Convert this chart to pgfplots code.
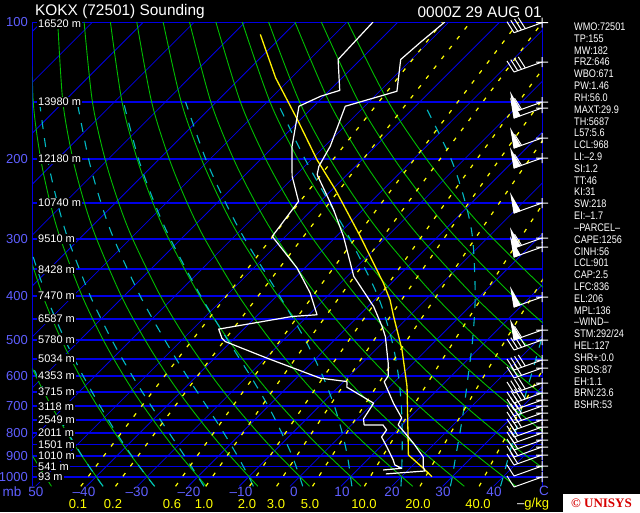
\documentclass[border=0pt]{standalone}
\usepackage{fontspec}
\setmainfont{Liberation Sans}
\newfontfamily\narrowfont{Liberation Sans}[FakeStretch=0.83]
\newfontfamily\logofont{Liberation Serif}
\usepackage{pgfplots}
\usepackage{pgfplotstable}
\pgfplotsset{compat=1.18}

\definecolor{isob}{RGB}{0,0,230}
\definecolor{dryc}{RGB}{0,190,0}
\definecolor{moistc}{RGB}{0,185,195}
\definecolor{mixc}{RGB}{255,255,0}
\definecolor{lblue}{RGB}{95,95,255}
\definecolor{unired}{RGB}{215,0,0}

\newcommand\sk{38.79}

% dry adiabats: temperature (C) at pressure p of the adiabats through -50 ... 100 C at 1000 hPa
\pgfplotstableread[row sep=\\]{
p tm50 tm40 tm30 tm20 tm10 t0 t10 t20 t30 t40 t50 t60 t70 t80 t90 t100 \\
1050 -46.87 -36.73 -26.59 -16.45 -6.31 3.83 13.97 24.11 34.25 44.39 54.53 64.67 74.81 84.95 95.09 105.23 \\
850 -60.12 -50.58 -41.03 -31.48 -21.94 -12.39 -2.84 6.70 16.25 25.80 35.34 44.89 54.43 63.98 73.53 83.07 \\
700 -71.63 -62.59 -53.56 -44.53 -35.50 -26.47 -17.44 -8.41 0.62 9.66 18.69 27.72 36.75 45.78 54.81 63.84 \\
600 -80.30 -71.66 -63.02 -54.38 -45.74 -37.09 -28.45 -19.81 -11.17 -2.53 6.12 14.76 23.40 32.04 40.68 49.33 \\
500 -90.10 -81.89 -73.69 -65.49 -57.28 -49.08 -40.88 -32.67 -24.47 -16.27 -8.06 0.14 8.34 16.55 24.75 32.95 \\
400 -101.40 -93.71 -86.01 -78.31 -70.61 -62.92 -55.22 -47.53 -39.83 -32.13 -24.44 -16.74 -9.04 -1.34 6.35 14.05 \\
300 -114.95 -107.86 -100.77 -93.68 -86.59 -79.51 -72.42 -65.33 -58.24 -51.15 -44.06 -36.97 -29.88 -22.79 -15.70 -8.61 \\
250 -122.98 -116.25 -109.52 -102.79 -96.06 -89.33 -82.60 -75.87 -69.14 -62.41 -55.68 -48.95 -42.22 -35.49 -28.76 -22.03 \\
200 -132.25 -125.94 -119.63 -113.31 -107.00 -100.68 -94.37 -88.06 -81.74 -75.43 -69.11 -62.80 -56.49 -50.17 -43.86 -37.54 \\
150 -143.38 -137.56 -131.74 -125.93 -120.11 -114.30 -108.48 -102.67 -96.85 -91.03 -85.22 -79.40 -73.59 -67.77 -61.96 -56.14 \\
100 -157.57 -152.39 -147.21 -142.03 -136.85 -131.67 -126.50 -121.32 -116.14 -110.96 -105.78 -100.60 -95.42 -90.24 -85.06 -79.88 \\
}\dryT

% moist (pseudo) adiabats, wet-bulb potential temperature -40..40 C
\pgfplotstableread[row sep=\\]{
p wa wb wc wd we wf wg wh wi \\
1050 -36.73 -26.60 -16.90 -7.20 2.50 12.15 21.80 31.50 41.35 \\
1000 -40.00 -30.00 -20.00 -10.00 0.00 10.00 20.00 30.00 40.00 \\
900 -46.82 -37.06 -26.70 -16.30 -5.55 5.30 16.05 26.60 37.00 \\
800 -54.21 -44.69 -34.35 -23.60 -12.20 -0.30 11.50 22.85 33.70 \\
700 -62.36 -53.02 -42.97 -32.10 -20.00 -7.00 6.15 18.50 29.90 \\
600 -71.40 -62.37 -52.70 -42.00 -29.50 -15.30 -0.40 13.30 25.65 \\
500 -81.62 -72.99 -63.80 -53.40 -41.05 -25.80 -8.80 7.10 20.60 \\
400 -93.45 -85.33 -76.70 -66.90 -55.00 -39.50 -20.20 -1.05 14.30 \\
300 -107.63 -100.15 -92.20 -83.20 -72.10 -57.50 -36.80 -12.70 6.10 \\
250 -116.03 -108.93 -101.35 -92.80 -82.30 -68.30 -47.90 -21.20 0.70 \\
200 -125.73 -119.08 -111.96 -103.90 -94.10 -80.90 -61.40 -32.70 -6.20 \\
150 -137.37 -131.24 -124.70 -117.30 -108.20 -96.00 -78.00 -49.30 -15.90 \\
}\moistT

% saturation mixing ratio lines 0.1 ... 40 g/kg
\pgfplotstableread[row sep=\\]{
p ra rb rc rd re rf rg rh ri rj \\
1050 -41.11 -34.29 -22.49 -16.55 -7.95 -2.63 4.42 14.61 25.54 37.17 \\
700 -44.90 -38.34 -27.00 -21.30 -13.07 -7.97 -1.24 8.48 18.89 29.93 \\
500 -47.94 -41.58 -30.61 -25.09 -17.15 -12.23 -5.75 3.61 13.61 24.21 \\
300 -52.37 -46.30 -35.86 -30.62 -23.07 -18.41 -12.27 -3.43 6.00 15.96 \\
200 -55.76 -49.90 -39.84 -34.80 -27.56 -23.09 -17.21 -8.75 0.27 9.77 \\
100 -61.27 -55.76 -46.31 -41.59 -34.82 -30.65 -25.16 -17.30 -8.95 -0.16 \\
}\mixT

\pgfplotstableread[row sep=\\]{
p \\ 1050 \\ 100 \\
}\isoP

% observed temperature
\pgfplotstableread[row sep=\\]{
p T \\
100 -60.8 \\ 110.9 -61.6 \\ 120.9 -62.1 \\ 142 -56.6 \\ 153.2 -63.8 \\
187.6 -58.9 \\ 207.6 -57.2 \\ 216.6 -55.9 \\ 258.6 -45.8 \\ 296.1 -38.6 \\
316.8 -35.3 \\ 362.7 -28.7 \\ 422.3 -18.9 \\ 467.4 -13.3 \\ 491.7 -10.7 \\
562.7 -4.9 \\ 600.1 -2.4 \\ 618.7 -2.0 \\ 689.2 4.0 \\ 742.5 8.5 \\
769.4 9.2 \\ 844.2 15.8 \\ 904.9 20.4 \\ 950.6 22.3 \\ 971.5 23.5 \\ 986 16.4 \\
}\tempT

% observed dew point
\pgfplotstableread[row sep=\\]{
p T \\
100 -74.9 \\ 120.9 -74.4 \\ 141.4 -68.0 \\ 145.6 -70.6 \\ 153.2 -72.9 \\
187.6 -66.4 \\ 218.4 -60.5 \\ 248 -54.3 \\ 296.1 -52.6 \\ 347.6 -41.5 \\
394.6 -34.0 \\ 440.4 -28.4 \\ 444.3 -33.0 \\ 473.6 -44.9 \\ 495.7 -42.5 \\
504.3 -41.2 \\ 548.6 -29.7 \\ 607.2 -15.3 \\ 617.7 -9.4 \\ 635.5 -8.3 \\
689.2 0.1 \\ 746.3 1.2 \\ 769.4 2.5 \\ 769.4 6.2 \\ 789.1 7.9 \\
817.7 8.3 \\ 860.2 11.3 \\ 918.8 15.1 \\ 942.4 16.4 \\ 958.3 18.4 \\ 966.6 15.1 \\
}\dewT

% lifted parcel
\pgfplotstableread[row sep=\\]{
p T \\
106.5 -94.6 \\ 132.6 -83.1 \\ 163.9 -70.6 \\ 200.7 -58.9 \\ 233.6 -49.4 \\
296.1 -35.3 \\ 375 -21.6 \\ 408.2 -17.0 \\ 444.3 -13.0 \\ 526 -4.8 \\
633.6 3.4 \\ 895.8 17.1 \\ 950.6 22.0 \\ 1000 26.0 \\
}\parcelT

% wind barb glyphs (drawn at the station point on the right frame)
\newcommand{\bstaff}{%
 \pgfpathmoveto{\pgfpoint{-6pt}{0pt}}\pgfpathlineto{\pgfpoint{6pt}{0pt}}%
 \pgfpathmoveto{\pgfpoint{0pt}{-5pt}}\pgfpathlineto{\pgfpoint{0pt}{5pt}}%
 \pgfpathmoveto{\pgfpoint{0pt}{0pt}}\pgfpathlineto{\pgfpoint{-28pt}{-10pt}}}
\newcommand{\bfeather}[1]{%
 \pgfpathmoveto{\pgfpoint{-28pt+3.77pt*#1}{-10pt+1.35pt*#1}}%
 \pgfpathlineto{\pgfpoint{-35pt+3.77pt*#1}{1pt+1.35pt*#1}}}
\newcommand{\bpennant}[1]{%
 \pgfpathmoveto{\pgfpoint{-28pt+3.77pt*#1}{-10pt+1.35pt*#1}}%
 \pgfpathlineto{\pgfpoint{-31pt+3.77pt*#1}{8pt+1.35pt*#1}}%
 \pgfpathlineto{\pgfpoint{-22pt+3.77pt*#1}{-7.8pt+1.35pt*#1}}\pgfpathclose}
\pgfdeclareplotmark{bF1}{\bstaff\bfeather{0}\pgfusepathqstroke}
\pgfdeclareplotmark{bF2}{\bstaff\bfeather{0}\bfeather{1}\pgfusepathqstroke}
\pgfdeclareplotmark{bF3}{\bstaff\bfeather{0}\bfeather{1}\bfeather{2}\pgfusepathqstroke}
\pgfdeclareplotmark{bF4}{\bstaff\bfeather{0}\bfeather{1}\bfeather{2}\bfeather{3}\pgfusepathqstroke}
\pgfdeclareplotmark{bP}{\bstaff\pgfusepathqstroke\bpennant{0}\pgfusepathqfillstroke}
\pgfdeclareplotmark{bPF1}{\bstaff\bfeather{2}\pgfusepathqstroke\bpennant{0}\pgfusepathqfillstroke}

\tikzset{
 plab/.style={font=\fontsize{13}{13}\selectfont, text=lblue, anchor=east, inner sep=0pt},
 hlab/.style={font=\fontsize{11}{11}\selectfont, text=white, fill=black, anchor=west, inner sep=1pt},
 rt/.style={font=\narrowfont\fontsize{11}{11}\selectfont, text=white, anchor=west, inner sep=0pt},
 tlab/.style={font=\fontsize{13.5}{13.5}\selectfont, text=lblue, inner sep=0pt},
 ylab/.style={font=\fontsize{13}{13}\selectfont, text=mixc, inner sep=0pt}
}

\begin{document}
\begin{tikzpicture}[x=1pt,y=1pt]
\fill[black] (0,0) rectangle (640,-512);

\begin{axis}[
 at={(32.5pt,-22pt)}, anchor=north west,
 scale only axis, width=510.2pt, height=464.3pt,
 xmin=-50.6, xmax=49.65, ymin=100, ymax=1050,
 ymode=log, y dir=reverse,
 xtick=\empty, ytick=\empty,
 separate axis lines,
 x axis line style={draw=none},
 y axis line style={draw=isob, line width=1.3pt},
 every axis plot/.append style={line join=round},
]
% isotherms
\pgfplotsinvokeforeach{-140,-130,...,50}{
 \addplot[isob, line width=0.8pt] table[x expr=#1+\sk*ln(1050/\thisrow{p}), y=p]{\isoP};
}
% isobars
\pgfplotsinvokeforeach{100,150,...,1000}{
 \addplot[isob, line width=1.8pt] coordinates {(-60,#1) (60,#1)};
}
% dry adiabats
\pgfplotsinvokeforeach{tm50,tm40,tm30,tm20,tm10,t0,t10,t20,t30,t40,t50,t60,t70,t80,t90,t100}{
 \addplot[dryc, line width=0.9pt, smooth] table[x expr=\thisrow{#1}+\sk*ln(1050/\thisrow{p}), y=p]{\dryT};
}
% moist adiabats
\pgfplotsinvokeforeach{wa,wb,wc,wd,we,wf,wg,wh,wi}{
 \addplot[moistc, line width=1.1pt, smooth, dash pattern=on 9pt off 9pt] table[x expr=\thisrow{#1}+\sk*ln(1050/\thisrow{p}), y=p]{\moistT};
}
% mixing ratio lines
\pgfplotsinvokeforeach{ra,rb,rc,rd,re,rf,rg,rh,ri,rj}{
 \addplot[mixc, line width=1.2pt, smooth, dash pattern=on 4pt off 8.5pt] table[x expr=\thisrow{#1}+\sk*ln(1050/\thisrow{p}), y=p]{\mixT};
}
% parcel
\addplot[yellow, line width=1.3pt] table[x expr=\thisrow{T}+\sk*ln(1050/\thisrow{p}), y=p]{\parcelT};
% dew point and temperature
\addplot[white, line width=1.2pt] table[x expr=\thisrow{T}+\sk*ln(1050/\thisrow{p}), y=p]{\dewT};
\addplot[white, line width=1.2pt] table[x expr=\thisrow{T}+\sk*ln(1050/\thisrow{p}), y=p]{\tempT};
\end{axis}

% wind barbs on the right frame (pixel frame overlay)
\begin{axis}[
 at={(0pt,0pt)}, anchor=north west, scale only axis, width=640pt, height=512pt,
 xmin=0, xmax=640, ymin=0, ymax=512, y dir=reverse, hide axis, clip=false]
\pgfplotsset{every axis plot/.append style={only marks, mark options={draw=white, fill=white, line width=1pt, solid}}}
\addplot[mark=bF4] coordinates {(542,22.7) (542,62) (542,340) (542,360) (542,383) (542,393)};
\addplot[mark=bPF1] coordinates {(542,102) (542,138) (542,158) (542,238) (542,330)};
\addplot[mark=bP] coordinates {(542,108) (542,203) (542,247) (542,297)};
\addplot[mark=bF3] coordinates {(542,368) (542,400) (542,406) (542,413) (542,420)};
\addplot[mark=bF2] coordinates {(542,427) (542,433) (542,440) (542,447) (542,455)};
\addplot[mark=bF1] coordinates {(542,466) (542,477)};
\end{axis}

% pressure labels
\node[plab] at (28,-22) {100};
\node[plab] at (28,-158.86) {200};
\node[plab] at (28,-238.92) {300};
\node[plab] at (28,-295.72) {400};
\node[plab] at (28,-339.78) {500};
\node[plab] at (28,-375.78) {600};
\node[plab] at (28,-406.22) {700};
\node[plab] at (28,-432.59) {800};
\node[plab] at (28,-455.84) {900};
\node[plab] at (28,-476.64) {1000};
% heights
\node[hlab] at (37,-24) {16520 m};
\node[hlab] at (37,-102.06) {13980 m};
\node[hlab] at (37,-158.86) {12180 m};
\node[hlab] at (37,-202.92) {10740 m};
\node[hlab] at (37,-238.92) {9510 m};
\node[hlab] at (37,-269.36) {8428 m};
\node[hlab] at (37,-295.72) {7470 m};
\node[hlab] at (37,-318.98) {6587 m};
\node[hlab] at (37,-339.78) {5780 m};
\node[hlab] at (37,-358.60) {5034 m};
\node[hlab] at (37,-375.78) {4353 m};
\node[hlab] at (37,-391.59) {3715 m};
\node[hlab] at (37,-406.22) {3118 m};
\node[hlab] at (37,-419.84) {2549 m};
\node[hlab] at (37,-432.59) {2011 m};
\node[hlab] at (37,-444.56) {1501 m};
\node[hlab] at (37,-455.84) {1010 m};
\node[hlab] at (37,-466.52) {541 m};
\node[hlab] at (37,-476.64) {93 m};
% titles
\node[font=\fontsize{15.4}{15.4}\selectfont, text=white, anchor=west, inner sep=0pt] at (35,-12) {KOKX (72501) Sounding};
\node[font=\fontsize{15.4}{15.4}\selectfont, text=white, anchor=east, inner sep=0pt] at (542,-12) {0000Z 29 AUG 01};
% temperature axis labels
\node[tlab] at (12,-491.5) {mb};
\node[tlab] at (36,-491.5) {50};
\node[tlab] at (84,-491.5) {–40};
\node[tlab] at (137,-491.5) {–30};
\node[tlab] at (189,-491.5) {–20};
\node[tlab] at (241,-491.5) {–10};
\node[tlab] at (294,-491.5) {0};
\node[tlab] at (342,-491.5) {10};
\node[tlab] at (392,-491.5) {20};
\node[tlab] at (443,-491.5) {30};
\node[tlab] at (494,-491.5) {40};
\node[tlab] at (544,-490.5) {C};
% mixing ratio labels
\node[ylab] at (78,-504) {0.1};
\node[ylab] at (113,-504) {0.2};
\node[ylab] at (172,-504) {0.6};
\node[ylab] at (204,-504) {1.0};
\node[ylab] at (247,-504) {2.0};
\node[ylab] at (276,-504) {3.0};
\node[ylab] at (310,-504) {5.0};
\node[ylab] at (364,-504) {10.0};
\node[ylab] at (418,-504) {20.0};
\node[ylab] at (478,-504) {40.0};
\node[ylab, anchor=west] at (517,-504) {\textcolor{white}{–}g/kg};
% logo
\fill[white] (563,-494) rectangle (640,-512);
\node[font=\logofont\bfseries\fontsize{13}{13}\selectfont, text=unired, inner sep=0pt] at (601.5,-503) {© UNISYS};
% station parameters
\node[rt] at (574,-26.7) {WMO:72501};
\node[rt] at (574,-38.52) {TP:155};
\node[rt] at (574,-50.34) {MW:182};
\node[rt] at (574,-62.16) {FRZ:646};
\node[rt] at (574,-73.98) {WBO:671};
\node[rt] at (574,-85.8) {PW:1.46};
\node[rt] at (574,-97.62) {RH:56.0};
\node[rt] at (574,-109.44) {MAXT:29.9};
\node[rt] at (574,-121.26) {TH:5687};
\node[rt] at (574,-133.08) {L57:5.6};
\node[rt] at (574,-144.9) {LCL:968};
\node[rt] at (574,-156.72) {LI:–2.9};
\node[rt] at (574,-168.54) {SI:1.2};
\node[rt] at (574,-180.36) {TT:46};
\node[rt] at (574,-192.18) {KI:31};
\node[rt] at (574,-204.0) {SW:218};
\node[rt] at (574,-215.82) {EI:–1.7};
\node[rt] at (574,-227.64) {–PARCEL–};
\node[rt] at (574,-239.46) {CAPE:1256};
\node[rt] at (574,-251.28) {CINH:56};
\node[rt] at (574,-263.1) {LCL:901};
\node[rt] at (574,-274.92) {CAP:2.5};
\node[rt] at (574,-286.74) {LFC:836};
\node[rt] at (574,-298.56) {EL:206};
\node[rt] at (574,-310.38) {MPL:136};
\node[rt] at (574,-322.2) {–WIND–};
\node[rt] at (574,-334.02) {STM:292/24};
\node[rt] at (574,-345.84) {HEL:127};
\node[rt] at (574,-357.66) {SHR+:0.0};
\node[rt] at (574,-369.48) {SRDS:87};
\node[rt] at (574,-381.3) {EH:1.1};
\node[rt] at (574,-393.12) {BRN:23.6};
\node[rt] at (574,-404.94) {BSHR:53};

\pgfresetboundingbox
\path[use as bounding box] (0,0) rectangle (640,-512);
\end{tikzpicture}
\end{document}
